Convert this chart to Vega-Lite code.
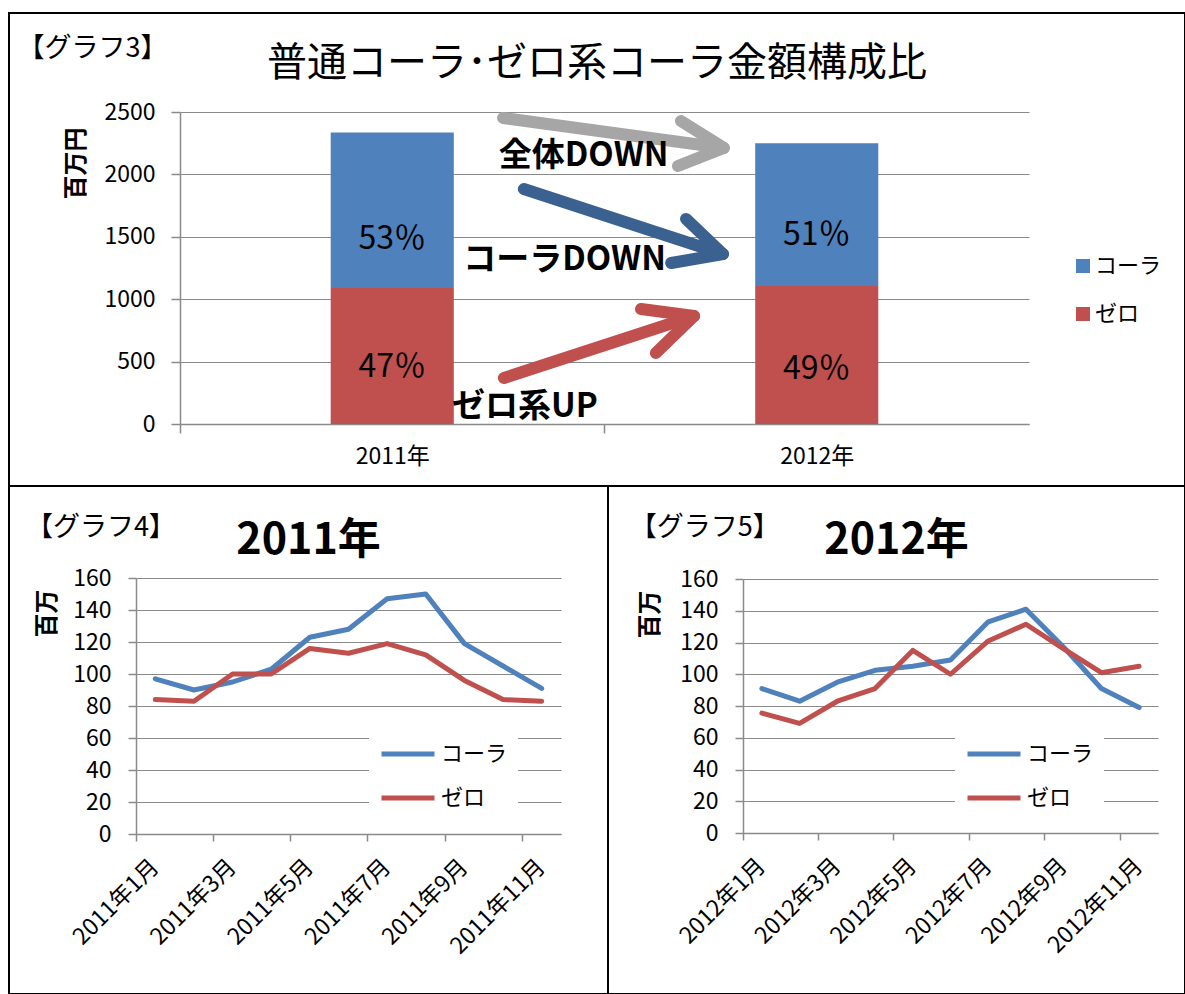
{
  "$schema": "https://vega.github.io/schema/vega-lite/v6.json",
  "background": "white",
  "padding": {"left": 8, "top": 12, "right": 0, "bottom": 0},
  "spacing": 0,
  "bounds": "flush",
  "resolve": {"scale": {"color": "independent"}, "legend": {"color": "independent"}},
  "config": {
    "font": "Noto Sans CJK JP",
    "view": {"stroke": "black", "strokeWidth": 2, "fill": "white"},
    "axis": {
      "labelFont": "Noto Sans CJK JP",
      "labelColor": "black",
      "titleColor": "black",
      "titleFont": "Noto Sans CJK JP",
      "domainColor": "#8a8a8a",
      "tickColor": "#8a8a8a",
      "gridColor": "#8a8a8a",
      "gridOpacity": 1,
      "domainWidth": 1.5,
      "tickWidth": 1.5,
      "gridWidth": 1.2
    },
    "legend": {"labelFont": "Noto Sans CJK JP", "labelColor": "black"},
    "title": {"font": "Noto Sans CJK JP", "color": "black"}
  },
  "vconcat": [
    {
      "width": 1176,
      "height": 473,
      "title": {"text": "普通コーラ･ゼロ系コーラ金額構成比", "fontSize": 40, "fontWeight": "normal", "anchor": "middle", "frame": "group", "offset": -71},
      "layer": [
        {
          "data": {"values": [
            {"year": "2011年", "series": "ゼロ", "value": 1090},
            {"year": "2011年", "series": "コーラ", "value": 1245},
            {"year": "2012年", "series": "ゼロ", "value": 1105},
            {"year": "2012年", "series": "コーラ", "value": 1145}
          ]},
          "layer": [
            {
              "mark": {"type": "bar"},
              "encoding": {
                "x": {"field": "year", "type": "nominal",
                  "scale": {"type": "band", "range": [171, 1020], "paddingInner": 0.71, "paddingOuter": 0.355},
                  "axis": {"title": null, "bandPosition": 0, "tickOffset": -150.7, "labelOffset": 150.7, "offset": -62, "tickSize": 9, "labelFontSize": 23, "labelPadding": 12, "labelAngle": 0, "grid": false}},
                "y": {"field": "value", "type": "quantitative", "stack": "zero",
                  "scale": {"domain": [0, 2500], "range": [411, 99], "nice": false},
                  "axis": {"title": "百万円", "values": [0, 500, 1000, 1500, 2000, 2500], "format": "d", "offset": -171, "grid": true, "tickSize": 9, "labelFontSize": 23, "labelPadding": 16, "titleFontSize": 24, "titleFontWeight": "bold", "titleX": -104, "titleY": 150, "titleAlign": "center", "titleBaseline": "middle", "titleAngle": -90}},
                "color": {"field": "series", "type": "nominal",
                  "scale": {"domain": ["コーラ", "ゼロ"], "range": ["#4f81bd", "#c0504d"]},
                  "legend": {"orient": "none", "legendX": 1063, "legendY": 242, "title": null, "padding": 0, "symbolType": "square", "symbolSize": 196, "symbolStrokeWidth": 0, "labelFontSize": 22, "rowPadding": 26, "labelOffset": 1}},
                "order": {"field": "series", "sort": "descending"}
              }
            },
            {
              "data": {"values": [
                {"year": "2011年", "label": "53％", "ty": 1482},
                {"year": "2011年", "label": "47％", "ty": 457},
                {"year": "2012年", "label": "51％", "ty": 1514},
                {"year": "2012年", "label": "49％", "ty": 441}
              ]},
              "mark": {"type": "text", "fontSize": 32, "color": "black", "align": "center", "baseline": "middle"},
              "encoding": {
                "x": {"field": "year", "type": "nominal"},
                "y": {"field": "ty", "type": "quantitative"},
                "text": {"field": "label"}
              }
            }
          ]
        },
        {
          "layer": [
            {
              "data": {"values": [
                {"arrow": "全体", "seg": "g1", "ord": 1, "ax": 0.761, "ay": 2452},
                {"arrow": "全体", "seg": "g1", "ord": 2, "ax": 1.281, "ay": 2212},
                {"arrow": "全体", "seg": "g2", "ord": 1, "ax": 1.180, "ay": 2428},
                {"arrow": "全体", "seg": "g2", "ord": 2, "ax": 1.281, "ay": 2212},
                {"arrow": "全体", "seg": "g2", "ord": 3, "ax": 1.173, "ay": 2067},
                {"arrow": "コーラ", "seg": "b1", "ord": 1, "ax": 0.810, "ay": 1883},
                {"arrow": "コーラ", "seg": "b1", "ord": 2, "ax": 1.279, "ay": 1362},
                {"arrow": "コーラ", "seg": "b2", "ord": 1, "ax": 1.192, "ay": 1643},
                {"arrow": "コーラ", "seg": "b2", "ord": 2, "ax": 1.279, "ay": 1362},
                {"arrow": "コーラ", "seg": "b2", "ord": 3, "ax": 1.157, "ay": 1290},
                {"arrow": "ゼロ系", "seg": "r1", "ord": 1, "ax": 0.763, "ay": 369},
                {"arrow": "ゼロ系", "seg": "r1", "ord": 2, "ax": 1.211, "ay": 865},
                {"arrow": "ゼロ系", "seg": "r2", "ord": 1, "ax": 1.086, "ay": 921},
                {"arrow": "ゼロ系", "seg": "r2", "ord": 2, "ax": 1.211, "ay": 865},
                {"arrow": "ゼロ系", "seg": "r2", "ord": 3, "ax": 1.121, "ay": 569}
              ]},
              "mark": {"type": "line", "strokeCap": "round", "strokeJoin": "round"},
              "encoding": {
                "x": {"field": "ax", "type": "quantitative", "scale": {"domain": [0, 2], "range": [171, 1020], "nice": false, "zero": false}, "axis": null},
                "y": {"field": "ay", "type": "quantitative", "scale": {"domain": [0, 2500], "range": [411, 99], "nice": false}, "axis": null},
                "detail": {"field": "seg", "type": "nominal"},
                "order": {"field": "ord", "type": "quantitative"},
                "color": {"field": "arrow", "type": "nominal", "scale": {"domain": ["全体", "コーラ", "ゼロ系"], "range": ["#a6a6a6", "#3a6190", "#c0504d"]}, "legend": null},
                "strokeWidth": {"field": "arrow", "type": "nominal", "scale": {"domain": ["全体", "コーラ", "ゼロ系"], "range": [12, 12, 10]}, "legend": null}
              }
            },
            {
              "data": {"values": [
                {"t": "全体DOWN", "ax": 0.751, "ay": 2147},
                {"t": "コーラDOWN", "ax": 0.667, "ay": 1314},
                {"t": "ゼロ系UP", "ax": 0.641, "ay": 136}
              ]},
              "mark": {"type": "text", "fontSize": 33, "fontWeight": "bold", "align": "left", "baseline": "middle", "color": "black"},
              "encoding": {
                "x": {"field": "ax", "type": "quantitative", "scale": {"domain": [0, 2], "range": [171, 1020], "nice": false, "zero": false}, "axis": null},
                "y": {"field": "ay", "type": "quantitative", "scale": {"domain": [0, 2500], "range": [411, 99], "nice": false}, "axis": null},
                "text": {"field": "t"}
              }
            },
            {
              "data": {"values": [{"t": "【グラフ3】", "ax": -0.383, "ay": 3005}]},
              "mark": {"type": "text", "fontSize": 27, "align": "left", "baseline": "middle", "color": "black"},
              "encoding": {
                "x": {"field": "ax", "type": "quantitative", "scale": {"domain": [0, 2], "range": [171, 1020], "nice": false, "zero": false}, "axis": null},
                "y": {"field": "ay", "type": "quantitative", "scale": {"domain": [0, 2500], "range": [411, 99], "nice": false}, "axis": null},
                "text": {"field": "t"}
              }
            }
          ]
        }
      ],
      "resolve": {"scale": {"x": "independent", "y": "independent", "color": "independent"}}
    },
    {
      "hconcat": [
        {
          "width": 599,
          "height": 508,
          "title": {"text": "2011年", "fontSize": 43, "fontWeight": "bold", "anchor": "middle", "frame": "group", "offset": -77},
          "layer": [
            {
              "data": {"values": [
                {"month": "2011年1月", "series": "コーラ", "value": 97},
                {"month": "2011年2月", "series": "コーラ", "value": 90},
                {"month": "2011年3月", "series": "コーラ", "value": 95},
                {"month": "2011年4月", "series": "コーラ", "value": 103},
                {"month": "2011年5月", "series": "コーラ", "value": 123},
                {"month": "2011年6月", "series": "コーラ", "value": 128},
                {"month": "2011年7月", "series": "コーラ", "value": 147},
                {"month": "2011年8月", "series": "コーラ", "value": 150},
                {"month": "2011年9月", "series": "コーラ", "value": 119},
                {"month": "2011年10月", "series": "コーラ", "value": 105},
                {"month": "2011年11月", "series": "コーラ", "value": 91},
                {"month": "2011年1月", "series": "ゼロ", "value": 84},
                {"month": "2011年2月", "series": "ゼロ", "value": 83},
                {"month": "2011年3月", "series": "ゼロ", "value": 100},
                {"month": "2011年4月", "series": "ゼロ", "value": 100},
                {"month": "2011年5月", "series": "ゼロ", "value": 116},
                {"month": "2011年6月", "series": "ゼロ", "value": 113},
                {"month": "2011年7月", "series": "ゼロ", "value": 119},
                {"month": "2011年8月", "series": "ゼロ", "value": 112},
                {"month": "2011年9月", "series": "ゼロ", "value": 96},
                {"month": "2011年10月", "series": "ゼロ", "value": 84},
                {"month": "2011年11月", "series": "ゼロ", "value": 83}
              ]},
              "mark": {"type": "line", "strokeWidth": 5, "strokeCap": "round", "strokeJoin": "round"},
              "encoding": {
                "x": {"field": "month", "type": "ordinal", "bandPosition": 0.5,
                  "scale": {"type": "band", "domain": ["2011年1月", "2011年2月", "2011年3月", "2011年4月", "2011年5月", "2011年6月", "2011年7月", "2011年8月", "2011年9月", "2011年10月", "2011年11月"], "range": [127, 552], "paddingInner": 0, "paddingOuter": 0},
                  "axis": {"title": null, "values": ["2011年1月", "2011年3月", "2011年5月", "2011年7月", "2011年9月", "2011年11月"], "bandPosition": 0, "offset": -160, "tickSize": 7, "labelAngle": -45, "labelAlign": "right", "labelBaseline": "middle", "labelFontSize": 23, "labelPadding": 22, "grid": false}},
                "y": {"field": "value", "type": "quantitative",
                  "scale": {"domain": [0, 160], "range": [348, 92], "nice": false},
                  "axis": {"title": "百万", "values": [0, 20, 40, 60, 80, 100, 120, 140, 160], "offset": -127, "grid": true, "tickSize": 8, "labelFontSize": 23, "labelPadding": 17, "titleFontSize": 24, "titleFontWeight": "bold", "titleX": -89, "titleY": 127, "titleAlign": "center", "titleBaseline": "middle", "titleAngle": -90}},
                "color": {"field": "series", "type": "nominal",
                  "scale": {"domain": ["コーラ", "ゼロ"], "range": ["#4f81bd", "#c0504d"]},
                  "legend": {"orient": "none", "legendX": 360, "legendY": 229, "title": null, "fillColor": "white", "padding": 10, "symbolType": "stroke", "symbolSize": 2809, "symbolStrokeWidth": 5, "labelFontSize": 22, "rowPadding": 4, "labelOffset": 4}}
              }
            },
            {
              "data": {"values": [{"t": "【グラフ4】", "ax": -2.85, "ay": 191}]},
              "mark": {"type": "text", "fontSize": 27, "align": "left", "baseline": "middle", "color": "black"},
              "encoding": {
                "x": {"field": "ax", "type": "quantitative", "scale": {"domain": [0, 11], "range": [127, 552], "nice": false, "zero": false}, "axis": null},
                "y": {"field": "ay", "type": "quantitative", "scale": {"domain": [0, 160], "range": [348, 92], "nice": false}, "axis": null},
                "text": {"field": "t"}
              }
            }
          ],
          "resolve": {"scale": {"x": "independent", "y": "independent"}}
        },
        {
          "width": 577,
          "height": 508,
          "title": {"text": "2012年", "fontSize": 43, "fontWeight": "bold", "anchor": "middle", "frame": "group", "offset": -77},
          "layer": [
            {
              "data": {"values": [
                {"month": "2012年1月", "series": "コーラ", "value": 91},
                {"month": "2012年2月", "series": "コーラ", "value": 83},
                {"month": "2012年3月", "series": "コーラ", "value": 95},
                {"month": "2012年4月", "series": "コーラ", "value": 102.5},
                {"month": "2012年5月", "series": "コーラ", "value": 105},
                {"month": "2012年6月", "series": "コーラ", "value": 109},
                {"month": "2012年7月", "series": "コーラ", "value": 133},
                {"month": "2012年8月", "series": "コーラ", "value": 141},
                {"month": "2012年9月", "series": "コーラ", "value": 117},
                {"month": "2012年10月", "series": "コーラ", "value": 91},
                {"month": "2012年11月", "series": "コーラ", "value": 79},
                {"month": "2012年1月", "series": "ゼロ", "value": 75.5},
                {"month": "2012年2月", "series": "ゼロ", "value": 69},
                {"month": "2012年3月", "series": "ゼロ", "value": 83},
                {"month": "2012年4月", "series": "ゼロ", "value": 91},
                {"month": "2012年5月", "series": "ゼロ", "value": 115},
                {"month": "2012年6月", "series": "ゼロ", "value": 100},
                {"month": "2012年7月", "series": "ゼロ", "value": 121},
                {"month": "2012年8月", "series": "ゼロ", "value": 131.5},
                {"month": "2012年9月", "series": "ゼロ", "value": 116},
                {"month": "2012年10月", "series": "ゼロ", "value": 101},
                {"month": "2012年11月", "series": "ゼロ", "value": 105}
              ]},
              "mark": {"type": "line", "strokeWidth": 5, "strokeCap": "round", "strokeJoin": "round"},
              "encoding": {
                "x": {"field": "month", "type": "ordinal", "bandPosition": 0.5,
                  "scale": {"type": "band", "domain": ["2012年1月", "2012年2月", "2012年3月", "2012年4月", "2012年5月", "2012年6月", "2012年7月", "2012年8月", "2012年9月", "2012年10月", "2012年11月"], "range": [135, 550], "paddingInner": 0, "paddingOuter": 0},
                  "axis": {"title": null, "values": ["2012年1月", "2012年3月", "2012年5月", "2012年7月", "2012年9月", "2012年11月"], "bandPosition": 0, "offset": -161, "tickSize": 7, "labelAngle": -45, "labelAlign": "right", "labelBaseline": "middle", "labelFontSize": 23, "labelPadding": 22, "grid": false}},
                "y": {"field": "value", "type": "quantitative",
                  "scale": {"domain": [0, 160], "range": [347, 93], "nice": false},
                  "axis": {"title": "百万", "values": [0, 20, 40, 60, 80, 100, 120, 140, 160], "offset": -135, "grid": true, "tickSize": 8, "labelFontSize": 23, "labelPadding": 17, "titleFontSize": 24, "titleFontWeight": "bold", "titleX": -93, "titleY": 128, "titleAlign": "center", "titleBaseline": "middle", "titleAngle": -90}},
                "color": {"field": "series", "type": "nominal",
                  "scale": {"domain": ["コーラ", "ゼロ"], "range": ["#4f81bd", "#c0504d"]},
                  "legend": {"orient": "none", "legendX": 347, "legendY": 229, "title": null, "fillColor": "white", "padding": 10, "symbolType": "stroke", "symbolSize": 2809, "symbolStrokeWidth": 5, "labelFontSize": 22, "rowPadding": 4, "labelOffset": 4}}
              }
            },
            {
              "data": {"values": [{"t": "【グラフ5】", "ax": -3.0, "ay": 192}]},
              "mark": {"type": "text", "fontSize": 27, "align": "left", "baseline": "middle", "color": "black"},
              "encoding": {
                "x": {"field": "ax", "type": "quantitative", "scale": {"domain": [0, 11], "range": [135, 550], "nice": false, "zero": false}, "axis": null},
                "y": {"field": "ay", "type": "quantitative", "scale": {"domain": [0, 160], "range": [347, 93], "nice": false}, "axis": null},
                "text": {"field": "t"}
              }
            }
          ],
          "resolve": {"scale": {"x": "independent", "y": "independent"}}
        }
      ],
      "spacing": 0,
      "bounds": "flush",
      "resolve": {"scale": {"color": "independent"}, "legend": {"color": "independent"}}
    }
  ]
}
